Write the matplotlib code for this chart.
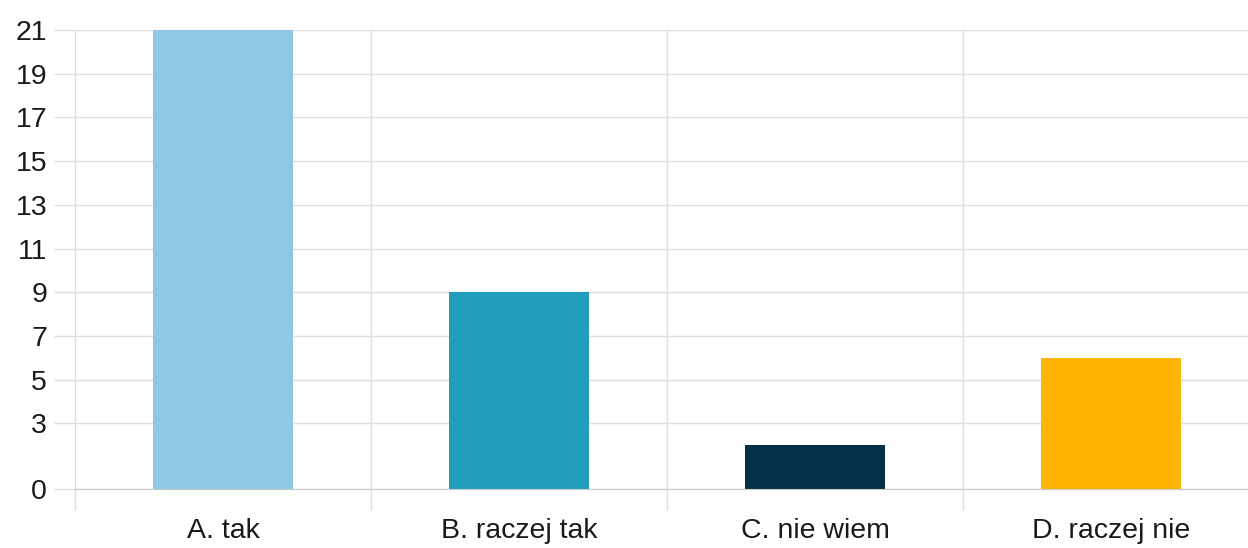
import numpy as np
from matplotlib import pyplot as plt

plt.rcParams['font.family'] = ['Liberation Sans', 'DejaVu Sans']

categories = ['A. tak', 'B. raczej tak', 'C. nie wiem', 'D. raczej nie']
values = [21, 9, 2, 6]
colors = ['#8fc8e5', '#229ebd', '#05304a', '#ffb504']
yticks = [0, 3, 5, 7, 9, 11, 13, 15, 17, 19, 21]

fig = plt.figure(figsize=(12.48, 5.48), dpi=100)
ax = fig.add_axes([75 / 1248, 59 / 548, 1184 / 1248, 459 / 548])

x = np.arange(len(categories))
ax.bar(x, values, width=0.473, color=colors, zorder=3)

ax.set_xlim(-0.5, len(categories) - 0.5)
ax.set_ylim(0, 21)

grid_c = '#dedede'
ax.set_yticks(yticks)
ax.set_yticklabels([str(t) for t in yticks])
ax.set_xticks(np.arange(len(categories) + 1) - 0.5)
ax.set_xticklabels([])
ax.set_xticks(x, minor=True)
ax.set_xticklabels(categories, minor=True)

ax.tick_params(axis='y', length=15, color=grid_c, width=1, pad=5,
               labelsize=20.5, labelcolor='#1a1a1a')
ax.tick_params(axis='x', which='major', length=15, color=grid_c, width=1)
ax.tick_params(axis='x', which='minor', length=0, pad=21,
               labelsize=20.5, labelcolor='#1a1a1a')

ax.grid(True, which='major', color=grid_c, linewidth=1, zorder=0)
for s in ['top', 'right', 'left']:
    ax.spines[s].set_visible(False)
ax.spines['bottom'].set_color('#c8c8c8')
ax.spines['bottom'].set_zorder(4)

fig.savefig('out.png', dpi=100)
